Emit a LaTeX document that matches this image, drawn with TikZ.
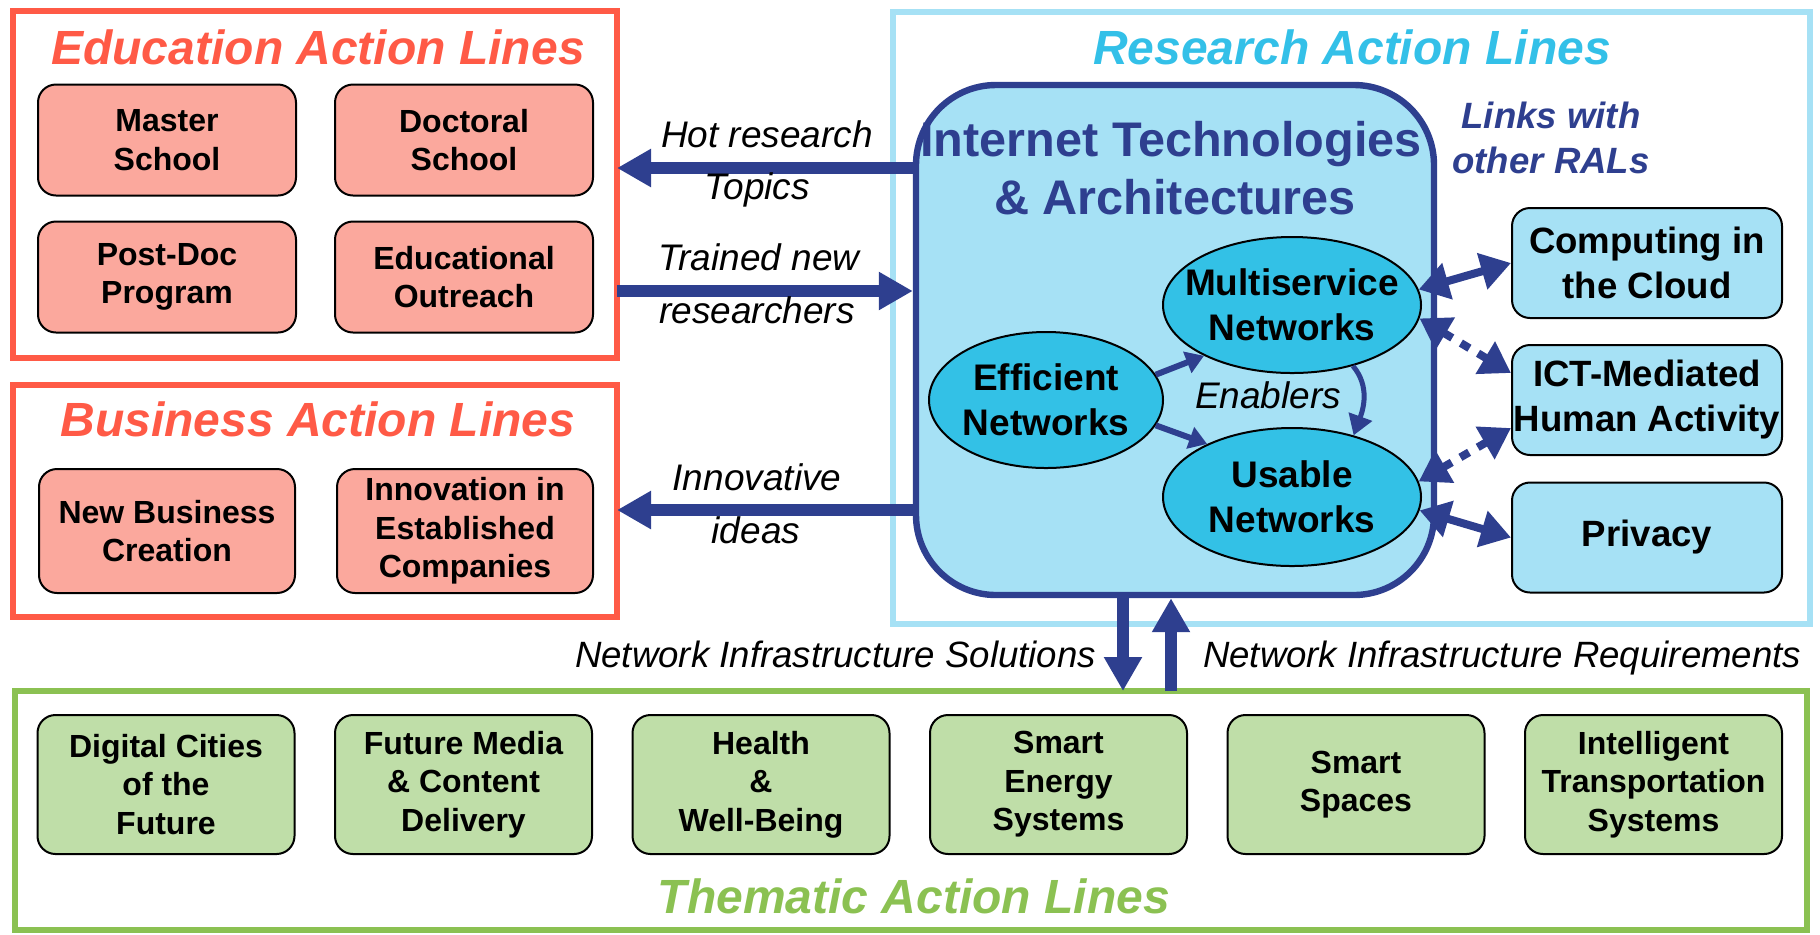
\documentclass[tikz,border=0pt]{standalone}
\usepackage{fontspec}
\setmainfont{Liberation Sans}
\usetikzlibrary{arrows.meta,shapes.geometric}
\definecolor{edured}{HTML}{FF5A46}
\definecolor{edufill}{HTML}{FBA89D}
\definecolor{reslight}{HTML}{A6E1F5}
\definecolor{rescyan}{HTML}{33C0E8}
\definecolor{navy}{HTML}{2E3F8F}
\definecolor{ellfill}{HTML}{33C1E6}
\definecolor{thgreen}{HTML}{8BC152}
\definecolor{thfill}{HTML}{BFDEA8}
\begin{document}
\begin{tikzpicture}[x=0.5pt,y=-0.5pt,
  frame/.style={draw, line width=2.75pt, inner sep=0pt, outer sep=0pt},
  subbox/.style={draw=black, line width=1pt, rounded corners=9pt, align=center, inner sep=0pt,
    font=\bfseries\fontsize{16}{19.3}\selectfont},
  edubox/.style={subbox, fill=edufill, minimum width=129pt, minimum height=55.5pt},
  busbox/.style={subbox, fill=edufill, minimum width=128pt, minimum height=62pt},
  thbox/.style={subbox, fill=thfill, minimum width=128.5pt, minimum height=69.5pt},
  ralbox/.style={subbox, fill=reslight, font=\bfseries\fontsize{18.3}{22.5}\selectfont,
    minimum width=135pt, minimum height=55pt},
  bigtitle/.style={font=\bfseries\itshape\fontsize{24}{28}\selectfont, anchor=base},
  itatitle/.style={font=\bfseries\fontsize{24.3}{29}\selectfont, anchor=base, text=navy},
  lbl/.style={font=\itshape\fontsize{18.5}{22}\selectfont, anchor=base},
  botlbl/.style={font=\itshape\fontsize{18.3}{22}\selectfont},
  linklbl/.style={font=\bfseries\itshape\fontsize{18.3}{22}\selectfont, anchor=base, text=navy},
  ell/.style={ellipse, draw=black, line width=1pt, fill=ellfill, inner sep=0pt},
  elltext/.style={align=center, font=\bfseries\fontsize{18.5}{22.5}\selectfont},
  bigarrow/.style={draw=navy, line width=6pt, -{Triangle[length=17pt,width=18pt]}},
  linkarrow/.style={draw=navy, line width=4pt,
    {Triangle[length=15pt,width=18pt]}-{Triangle[length=15pt,width=18pt]}},
  dasharrow/.style={linkarrow, dash pattern=on 5pt off 5pt},
  smallarrow/.style={draw=navy, line width=3pt, -{Triangle[length=9pt,width=11pt]}}
]
\useasboundingbox (0,0) rectangle (1820,934);

% ---------- outer frames ----------
\node[frame, draw=edured, minimum width=302pt, minimum height=173.5pt] (edu) at (315,184.5) {};
\node[frame, draw=edured, minimum width=302pt, minimum height=116pt] (bus) at (315,501) {};
\node[frame, draw=reslight, minimum width=458.5pt, minimum height=306pt] (res) at (1351.5,318) {};
\node[frame, draw=thgreen, minimum width=896pt, minimum height=119.5pt] (them) at (911,810.5) {};

% ---------- titles ----------
\node[bigtitle, text=edured] (edutitle) at (318,64) {Education Action Lines};
\node[bigtitle, text=edured] (bustitle) at (318,436) {Business Action Lines};
\node[bigtitle, text=rescyan] (restitle) at (1352,64) {Research Action Lines};
\node[bigtitle, text=thgreen] (themtitle) at (914,913) {Thematic Action Lines};

% ---------- education boxes ----------
\node[edubox] (master) at (167,140) {Master\\School};
\node[edubox] (doctoral) at (464,140) {Doctoral\\School};
\node[edubox] (postdoc) at (167,277) {Post-Doc\\Program};
\node[edubox] (outreach) at (464,277) {Educational\\Outreach};

% ---------- business boxes ----------
\node[busbox] (newbiz) at (167,531) {New Business\\Creation};
\node[busbox] (innov) at (465,531) {Innovation in\\Established\\Companies};

% ---------- thematic boxes ----------
\node[thbox] (th1) at (166,784.5) {Digital Cities\\of the\\Future};
\node[thbox] (th2) at (463.5,784.5) {Future Media\\\& Content\\Delivery};
\node[thbox] (th3) at (761,784.5) {Health\\\&\\Well-Being};
\node[thbox] (th4) at (1058.5,784.5) {Smart\\Energy\\Systems};
\node[thbox] (th5) at (1356,784.5) {Smart\\Spaces};
\node[thbox] (th6) at (1653.5,784.5) {Intelligent\\Transportation\\Systems};

% ---------- internet technologies box ----------
\node[draw=navy, line width=3.2pt, fill=reslight, rounded corners=40pt,
      minimum width=259pt, minimum height=255pt, inner sep=0pt] (ita) at (1175,340) {};
\node[itatitle] (itat1) at (1171,156) {Internet Technologies};
\node[itatitle] (itat2) at (1175,214) {\& Architectures};

% ---------- ellipses ----------
\node[ell, minimum width=129pt, minimum height=68pt] (multi) at (1292,305) {};
\node[elltext] (multit) at (multi.center) {Multiservice\\Networks};
\node[ell, minimum width=117pt, minimum height=68pt] (eff) at (1046,400) {};
\node[elltext] (efft) at (eff.center) {Efficient\\Networks};
\node[ell, minimum width=129pt, minimum height=69pt] (usable) at (1292,497) {};
\node[elltext] (usablet) at (usable.center) {Usable\\Networks};
\node[lbl] (enablers) at (1268,408) {Enablers};

\draw[smallarrow] (eff.13) -- (multi.210);
\draw[smallarrow] (eff.-13) -- (usable.148);
\draw[draw=navy, line width=2.5pt, -{Triangle[length=10pt,width=12pt]}]
  (multi.-45) to[out=-50,in=70] (usable.45);

% ---------- other RALs ----------
\node[linklbl] (links1) at (1551,128) {Links with};
\node[linklbl] (links2) at (1551,173) {other RALs};
\node[ralbox] (comp) at (1647,263) {Computing in\\the Cloud};
\node[ralbox] (ict) at (1647,400) {ICT-Mediated\\Human Activity};
\node[ralbox] (priv) at (1647,537.5) {Privacy};

\draw[linkarrow] (multi.7) -- (comp.west);
\draw[dasharrow] (multi.-6) -- ([yshift=13.5pt]ict.west);
\draw[dasharrow] (usable.7) -- ([yshift=-14pt]ict.west);
\draw[linkarrow] (usable.-6) -- (priv.west);

% ---------- big arrows ----------
\draw[bigarrow] ([yshift=86pt]ita.west) -- ([yshift=8.25pt]edu.east);
\draw[bigarrow] ([yshift=-53.25pt]edu.east) -- ([yshift=24.5pt]ita.west);
\draw[bigarrow] ([yshift=-85pt]ita.west) -- ([yshift=-4.5pt]bus.east);
\draw[bigarrow] ([xshift=-26pt]ita.south) -- ([xshift=106pt]them.north);
\draw[bigarrow] ([xshift=130pt]them.north) -- ([xshift=-2pt]ita.south);

% ---------- arrow labels ----------
\node[lbl] (hot1) at (767,147) {Hot research};
\node[lbl] (hot2) at (757,199) {Topics};
\node[lbl] (tr1) at (759,270) {Trained new};
\node[lbl] (tr2) at (757,323) {researchers};
\node[lbl] (inn1) at (757,490) {Innovative};
\node[lbl] (inn2) at (756,543) {ideas};
\node[botlbl, anchor=base east] (sol) at (1103,667) {Network Infrastructure Solutions};
\node[botlbl, anchor=base west] (req) at (1196,667) {Network Infrastructure Requirements};
\end{tikzpicture}
\end{document}
